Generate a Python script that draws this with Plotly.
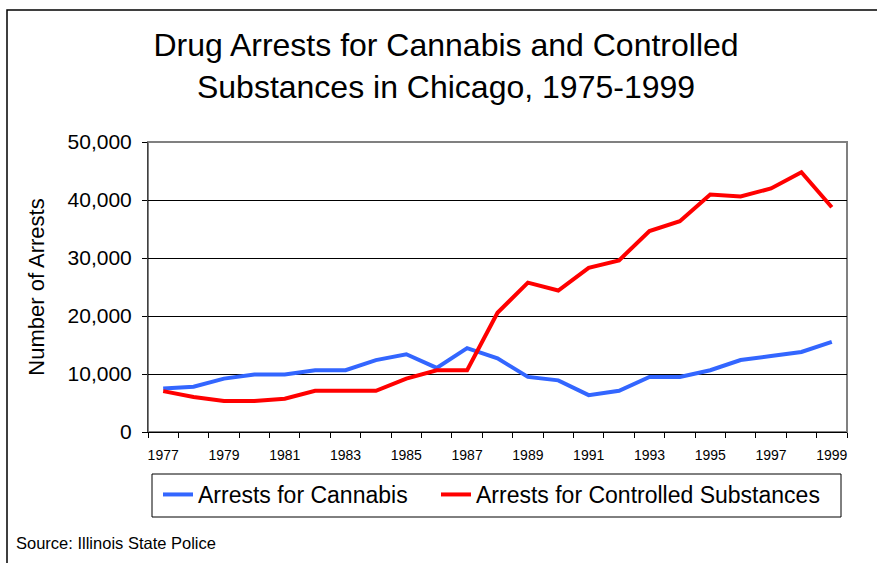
import plotly.graph_objects as go

years = list(range(1977, 2000))
cannabis = [7500, 7800, 9200, 9900, 9900, 10650, 10650, 12400, 13400, 11050, 14450,
            12700, 9500, 8900, 6350, 7100, 9500, 9500, 10650, 12400, 13100, 13800, 15550]
controlled = [7050, 6050, 5350, 5350, 5750, 7100, 7100, 7100, 9200, 10650, 10650,
              20550, 25750, 24400, 28300, 29600, 34650, 36350, 40950, 40600, 42000, 44800, 38750]
x_labels = list(range(1977, 2000, 2))
y_ticks = [0, 10000, 20000, 30000, 40000, 50000]

FONT = "Liberation Sans, Arial, sans-serif"

fig = go.Figure()
fig.add_trace(go.Scatter(x=years, y=cannabis, mode="lines", name="Arrests for Cannabis",
                         line=dict(color="#3366FF", width=4), legend="legend"))
fig.add_trace(go.Scatter(x=years, y=controlled, mode="lines", name="Arrests for Controlled Substances",
                         line=dict(color="#FF0000", width=4), legend="legend2"))

L, R, T, B = 148, 30, 142, 131
W, H = 877, 563
pw, ph = W - L - R, H - T - B

def px_x(x):
    return (x - L) / pw

def px_y(y):
    return (H - B - y) / ph

legend_common = dict(orientation="h", yanchor="top", y=px_y(473), borderwidth=0,
                     bgcolor="rgba(0,0,0,0)", itemwidth=30,
                     font=dict(size=23, family=FONT, color="black"))

fig.update_layout(
    width=W, height=H,
    margin=dict(l=L, r=R, t=T, b=B),
    paper_bgcolor="white", plot_bgcolor="white",
    font=dict(family=FONT, color="black"),
    title=dict(text="Drug Arrests for Cannabis and Controlled<br>Substances in Chicago, 1975-1999",
               x=446 / W, xref="container", xanchor="center",
               y=1 - 56 / H, yref="container", yanchor="middle",
               font=dict(size=32, family=FONT, color="black")),
    showlegend=True,
    legend=dict(x=px_x(158), xanchor="left", **legend_common),
    legend2=dict(x=px_x(436), xanchor="left", **legend_common),
    xaxis=dict(range=[1976.5, 1999.5], tickvals=x_labels, ticktext=[str(v) for v in x_labels],
               ticks="", showgrid=False, zeroline=False,
               showline=True, linecolor="black", linewidth=1,
               ticklabelstandoff=10,
               tickfont=dict(size=14, family=FONT, color="black"),
               minor=dict(tick0=1976.5, dtick=1, ticks="outside", ticklen=5,
                          tickcolor="black", showgrid=False)),
    yaxis=dict(range=[0, 50000], tickvals=y_ticks, tickformat=",", ticks="outside", ticklen=5,
               tickcolor="black", showline=True, linecolor="#404040", linewidth=1,
               showgrid=True, gridcolor="black", gridwidth=1, zeroline=False,
               ticklabelstandoff=6,
               tickfont=dict(size=21, family=FONT, color="black"),
               title=dict(text="Number of Arrests", font=dict(size=22, family=FONT, color="black"),
                          standoff=16)),
    shapes=[
        dict(type="rect", xref="paper", yref="paper", x0=0, x1=1, y0=0, y1=1,
             line=dict(color="#808080", width=2), layer="below"),
        dict(type="rect", xref="paper", yref="paper", x0=px_x(7), x1=px_x(W + 20),
             y0=px_y(H + 20), y1=px_y(10), line=dict(color="black", width=1.5), layer="below"),
        dict(type="rect", xref="paper", yref="paper", x0=px_x(152), x1=px_x(841),
             y0=px_y(517), y1=px_y(474), line=dict(color="black", width=1), layer="below"),
    ],
    annotations=[
        dict(text="Source: Illinois State Police", xref="paper", yref="paper",
             x=px_x(14), y=px_y(543), xanchor="left", yanchor="middle", showarrow=False,
             font=dict(size=16.5, family=FONT, color="black")),
    ],
)

fig.write_html("out.html")
